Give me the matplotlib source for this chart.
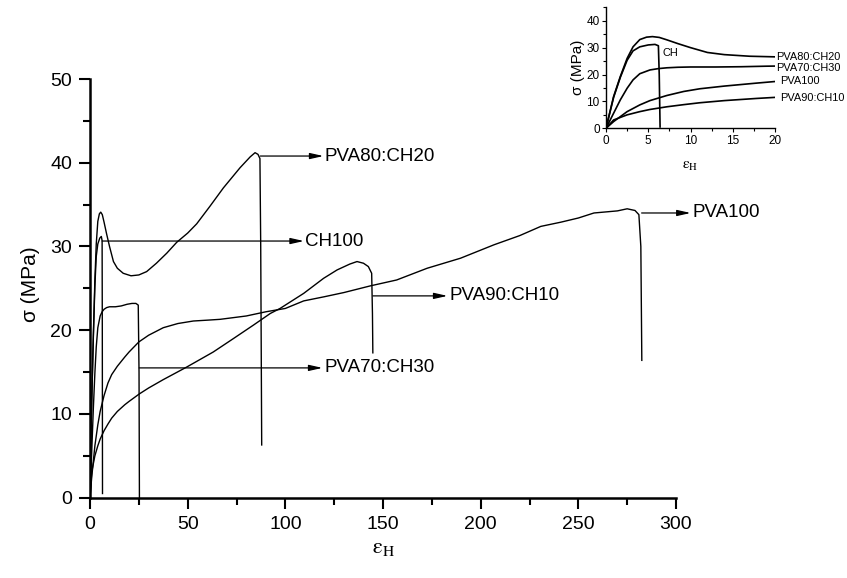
import matplotlib
matplotlib.use("Agg")
import matplotlib.pyplot as plt
from matplotlib.ticker import MultipleLocator

plt.rcParams['font.family'] = ['Liberation Sans', 'DejaVu Sans']
plt.rcParams['mathtext.fontset'] = 'stix'

# ---- data (strain %, stress MPa) ----
pva80_x = [0, 0.9, 1.7, 2.5, 3.2, 4.0, 4.8, 5.5, 6.3, 7.2, 8.5, 10, 12, 14, 17, 21, 25, 29, 34,
           39.3, 44.4, 50, 54.6, 61.4, 68.3, 76.8, 82, 84.5, 86, 87, 87.4, 87.9]
pva80_y = [0, 11.8, 19.3, 26, 30.3, 33.0, 33.9, 34.1, 33.8, 32.9, 31.5, 30.0, 28.2, 27.4, 26.8, 26.5,
           26.6, 27.0, 28.0, 29.2, 30.5, 31.6, 32.7, 34.8, 37.0, 39.4, 40.7, 41.2, 41.0, 40.5, 30, 6.3]

ch100_x = [0, 0.9, 1.7, 2.5, 3.2, 4.0, 5.0, 5.8, 6.2, 6.3, 6.4]
ch100_y = [0, 11.5, 19, 25.3, 28.8, 30.3, 31.0, 31.2, 30.7, 20, 0.5]

pva70_x = [0, 0.9, 1.7, 2.5, 3.2, 4.0, 5.2, 6.2, 7.2, 8.5, 10, 13, 16, 19, 21.5, 23.5, 24.7, 25.1, 25.3]
pva70_y = [0, 5.6, 10.6, 14.9, 18.0, 20.3, 21.7, 22.2, 22.5, 22.7, 22.8, 22.8, 22.9, 23.1, 23.2, 23.2,
           23.0, 15, 0]

pva100_x = [0, 0.9, 2.5, 4.0, 5.2, 7.2, 9.2, 11.1, 14, 17.8, 20, 25, 30, 37.5, 45, 52.9, 60, 66.6, 80,
            90, 100, 109.4, 120, 130, 143.6, 157, 172.6, 189.7, 206.8, 220, 230.8, 241, 250, 258, 270,
            275, 279, 281, 282, 282.5]
pva100_y = [0, 2.5, 6.2, 8.7, 10.3, 12.2, 13.7, 14.7, 15.7, 16.8, 17.4, 18.6, 19.4, 20.3, 20.8, 21.1,
            21.2, 21.3, 21.7, 22.2, 22.6, 23.5, 24.0, 24.5, 25.3, 26.0, 27.4, 28.6, 30.2, 31.3, 32.4,
            32.9, 33.4, 34.0, 34.25, 34.5, 34.3, 33.8, 30, 16.4]

pva90_x = [0, 0.9, 2.5, 4.0, 5.2, 7.2, 9.2, 11.1, 14, 17.8, 20, 25.3, 30, 37.5, 49.5, 63.1, 73.4, 83.6,
           92.3, 97.3, 109.4, 119.6, 126.5, 133, 136.7, 140, 142.5, 144.2, 144.6, 144.8]
pva90_y = [0, 3.1, 5.0, 6.2, 7.0, 8.0, 8.8, 9.5, 10.3, 11.1, 11.5, 12.4, 13.1, 14.1, 15.6, 17.4, 19.0,
           20.6, 22.0, 22.6, 24.4, 26.2, 27.2, 27.9, 28.2, 28.0, 27.6, 26.8, 22, 17.3]

curves = [(pva80_x, pva80_y), (ch100_x, ch100_y), (pva70_x, pva70_y),
          (pva100_x, pva100_y), (pva90_x, pva90_y)]

# main-chart labels: (text, arrow start x, y, arrow end x)
labels = ['PVA80:CH20', 'CH100', 'PVA70:CH30', 'PVA90:CH10', 'PVA100']
arrow_x0 = [87.2, 6.2, 25.2, 144.8, 282.4]
arrow_y = [40.8, 30.65, 15.5, 24.1, 34.0]
arrow_x1 = [119.5, 109.5, 119.0, 183.0, 307.5]

inset_labels = ['PVA80:CH20', 'PVA70:CH30', 'PVA100', 'PVA90:CH10', 'CH']
inset_lx = [20.1, 20.1, 20.6, 20.6, 6.7]
inset_ly = [26.7, 22.4, 17.6, 11.4, 28.0]

fig = plt.figure(figsize=(8.47, 5.78), dpi=100)
ax = fig.add_axes([90 / 847, 1 - 497.7 / 578, 586 / 847, 418.7 / 578])

for x, y in curves:
    ax.plot(x, y, color='black', lw=1.0)

ax.set_xlim(0, 300)
ax.set_ylim(0, 50)
for s in ['top', 'right']:
    ax.spines[s].set_visible(False)
for s in ['left', 'bottom']:
    ax.spines[s].set_linewidth(1.8)
ax.xaxis.set_major_locator(MultipleLocator(50))
ax.xaxis.set_minor_locator(MultipleLocator(25))
ax.yaxis.set_major_locator(MultipleLocator(10))
ax.yaxis.set_minor_locator(MultipleLocator(5))
ax.tick_params(which='major', direction='out', length=8, width=1.5, labelsize=14, pad=5)
ax.tick_params(which='minor', direction='out', length=5, width=1.5)
ax.set_ylabel('σ (MPa)', fontsize=15)
ax.yaxis.set_label_coords(-0.085, 0.51)
ax.set_xlabel(r'$\mathrm{ε}_{\mathrm{H}}$', fontsize=16)
ax.xaxis.set_label_coords(0.5, -0.095)

for t, x0, yy, x1 in zip(labels, arrow_x0, arrow_y, arrow_x1):
    ax.annotate('', xy=(x1, yy), xytext=(x0, yy),
                arrowprops=dict(arrowstyle='-|>,head_length=0.8,head_width=0.18',
                                color='black', lw=0.9, shrinkA=0, shrinkB=0,
                                mutation_scale=10),
                annotation_clip=False)
    ax.text(x1 + 0.8, yy, t, fontsize=13.5, va='center', ha='left', clip_on=False)

# ---- inset ----
ax2 = fig.add_axes([606 / 847, 1 - 128.3 / 578, 169 / 847, 121 / 578])
for x, y in curves:
    ax2.plot(x, y, color='black', lw=1.2)
ax2.set_xlim(0, 20)
ax2.set_ylim(0, 45)
for s in ['top', 'right']:
    ax2.spines[s].set_visible(False)
for s in ['left', 'bottom']:
    ax2.spines[s].set_linewidth(1.0)
ax2.xaxis.set_major_locator(MultipleLocator(5))
ax2.xaxis.set_minor_locator(MultipleLocator(2.5))
ax2.yaxis.set_major_locator(MultipleLocator(10))
ax2.yaxis.set_minor_locator(MultipleLocator(5))
ax2.tick_params(which='major', direction='out', length=3, width=0.8, labelsize=8.5, pad=1.5)
ax2.tick_params(which='minor', direction='out', length=2, width=0.8)
ax2.set_ylabel('σ (MPa)', fontsize=11, labelpad=1)
ax2.set_xlabel(r'$\mathrm{ε}_{\mathrm{H}}$', fontsize=11, labelpad=9)
for t, lx, ly in zip(inset_labels, inset_lx, inset_ly):
    ax2.text(lx, ly, t, fontsize=7.9, va='center', ha='left', clip_on=False)

fig.savefig('out.png', dpi=100)
